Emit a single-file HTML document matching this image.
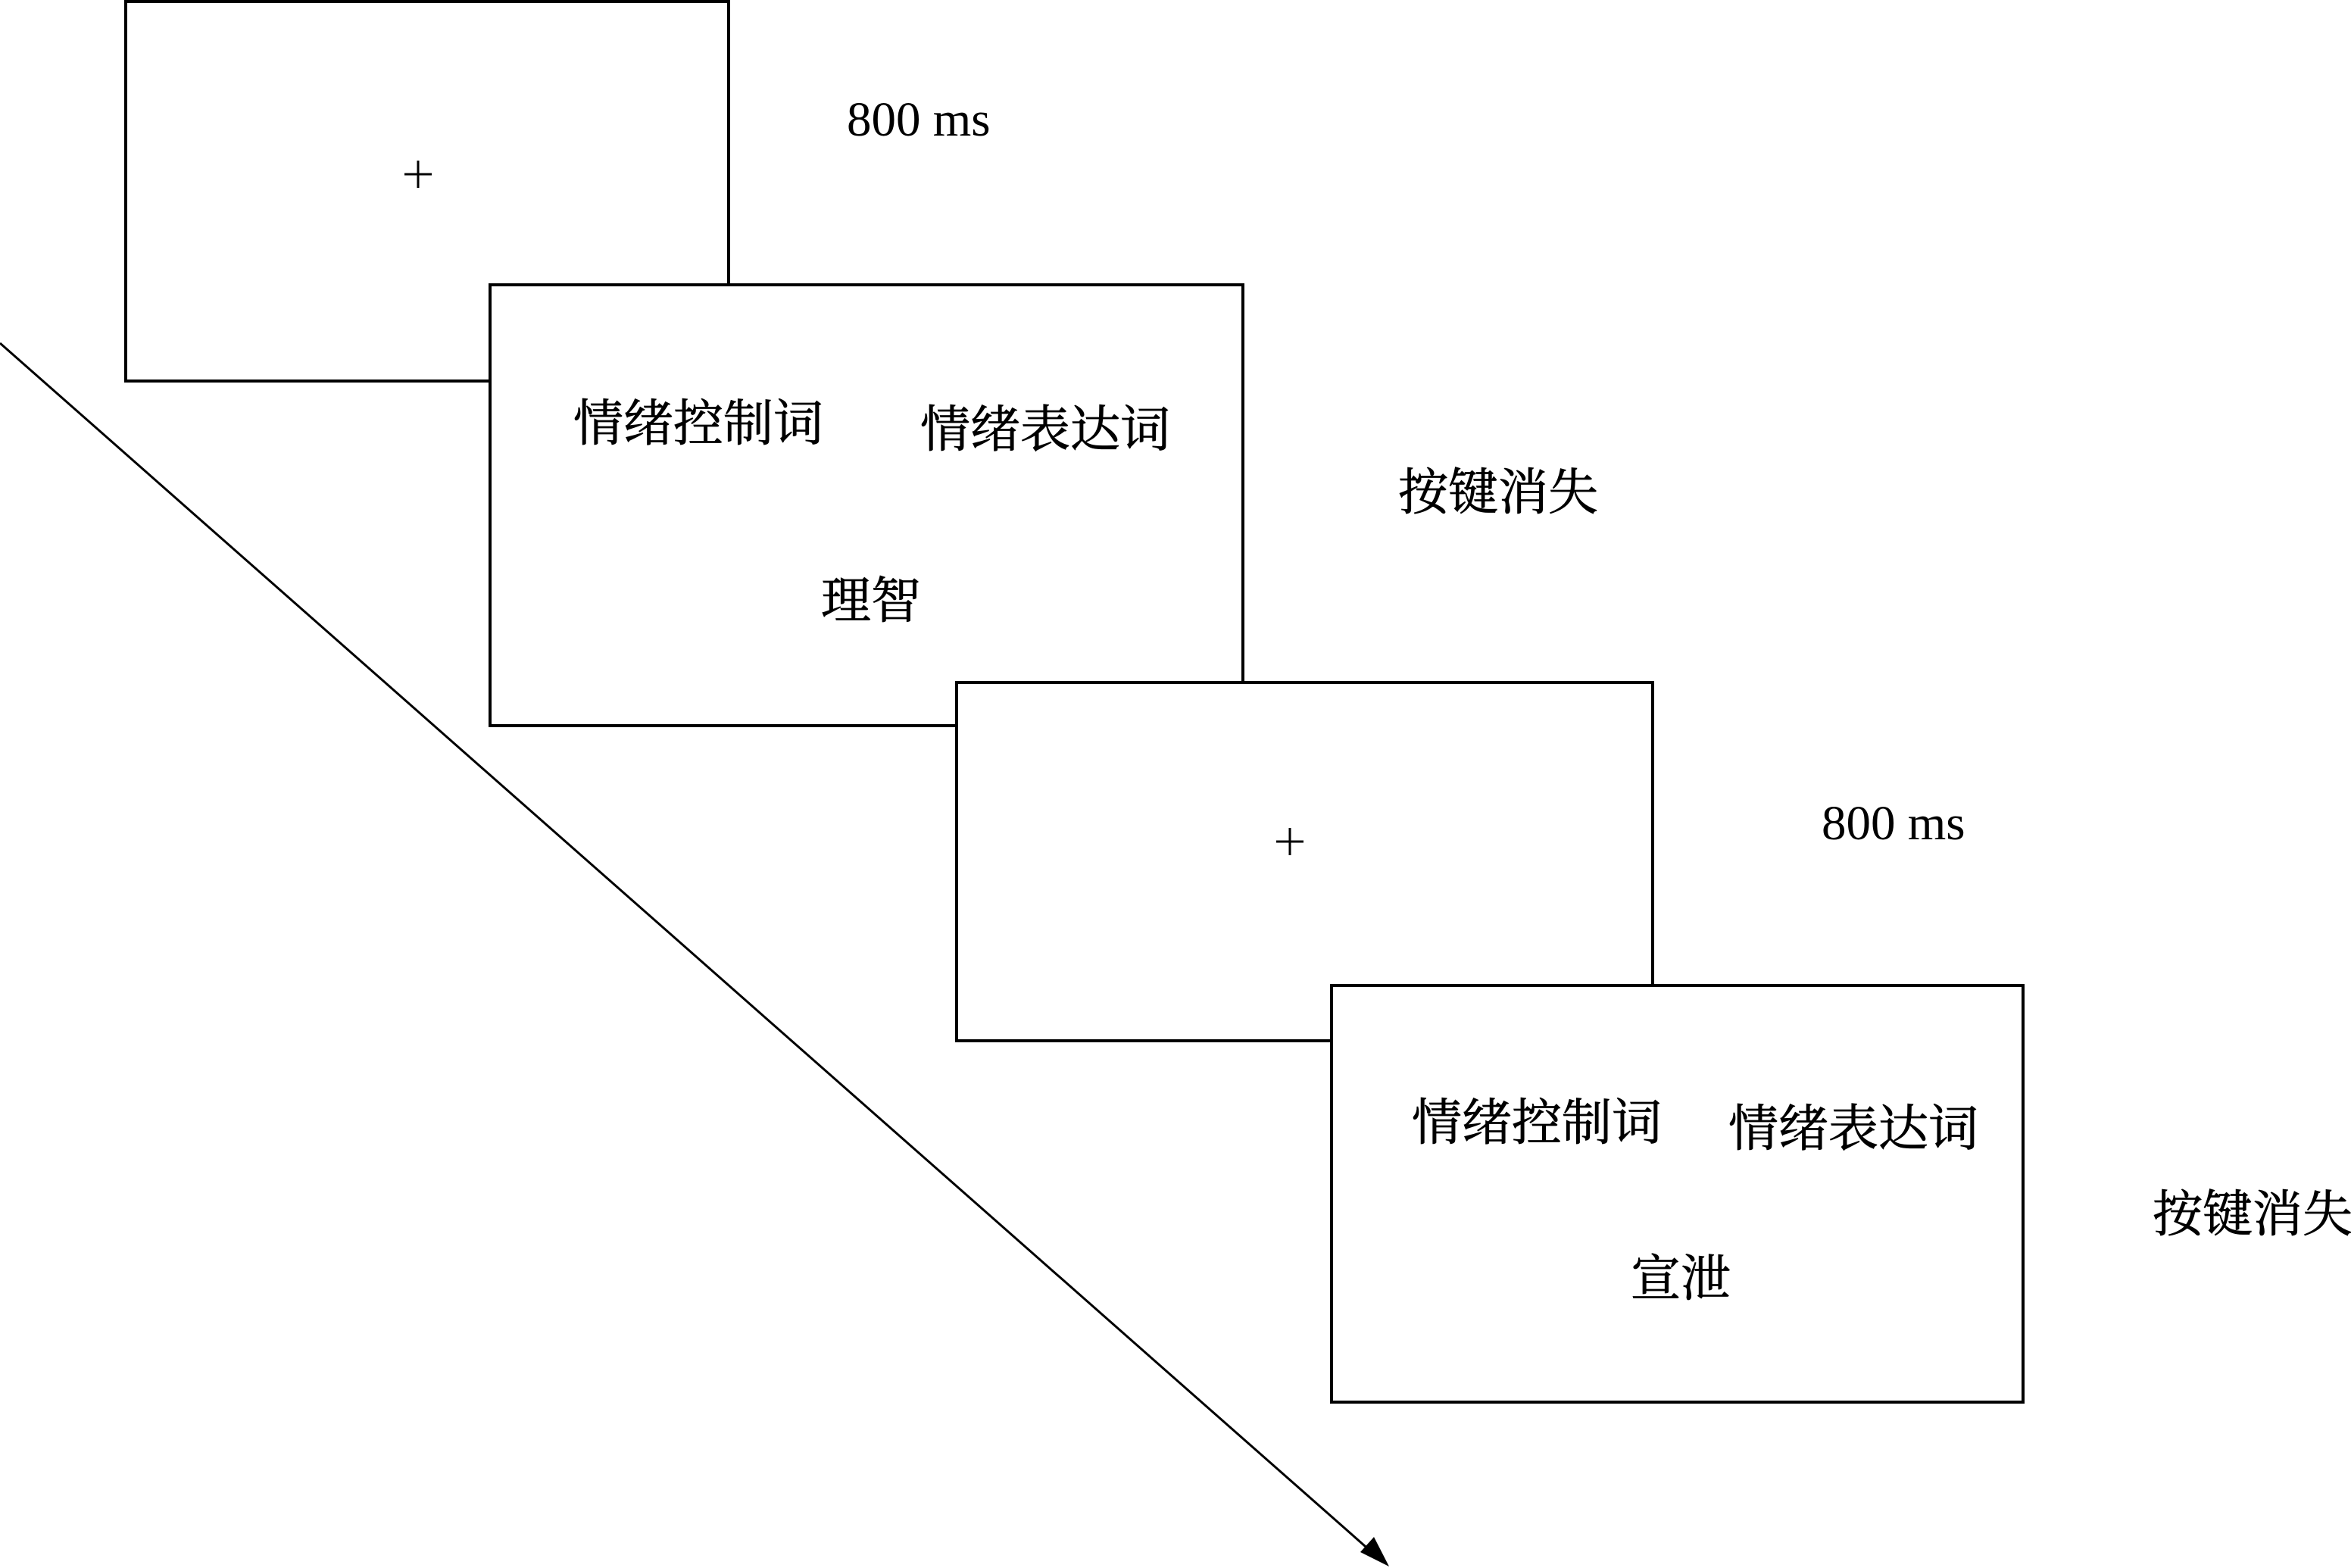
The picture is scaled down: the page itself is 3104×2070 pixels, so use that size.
<!DOCTYPE html>
<html><head><meta charset="utf-8"><style>html,body{margin:0;padding:0;background:#fff}svg{display:block}</style></head>
<body>
<svg width="3104" height="2070" viewBox="0 0 3104 2070" xmlns="http://www.w3.org/2000/svg" font-family="'Liberation Serif','Noto Serif CJK SC',serif" fill="#000">
<g stroke="#000" stroke-width="4" fill="#fff">
<rect x="166" y="2" width="796" height="501"/>
<rect x="647" y="376" width="994" height="582"/>
<rect x="1263" y="901" width="919" height="473"/>
<rect x="1758" y="1301" width="913" height="550"/>
<line x1="0" y1="453" x2="1810" y2="2048" stroke-width="3"/>
</g>
<polygon points="1834,2068 1796,2049 1814,2029" fill="#000"/>
<g stroke="#000" stroke-width="3">
<line x1="534" y1="230" x2="570" y2="230"/><line x1="552" y1="212" x2="552" y2="248"/>
<line x1="1685" y1="1111" x2="1721" y2="1111"/><line x1="1703" y1="1093" x2="1703" y2="1129"/>
</g>
<g font-size="65" dominant-baseline="central">
<text x="1118" y="158">800 ms</text>
<text x="2405" y="1087">800 ms</text>
</g>
<g font-size="66" dominant-baseline="central" stroke="#000" stroke-width="0.8">
<text x="757" y="560">情绪控制词</text>
<text x="1215" y="568">情绪表达词</text>
<text x="1084" y="794">理智</text>
<text x="1846" y="651">按键消失</text>
<text x="1864" y="1483">情绪控制词</text>
<text x="2282" y="1491">情绪表达词</text>
<text x="2153" y="1689">宣泄</text>
<text x="2842" y="1604">按键消失</text>
</g>
</svg>
</body></html>
